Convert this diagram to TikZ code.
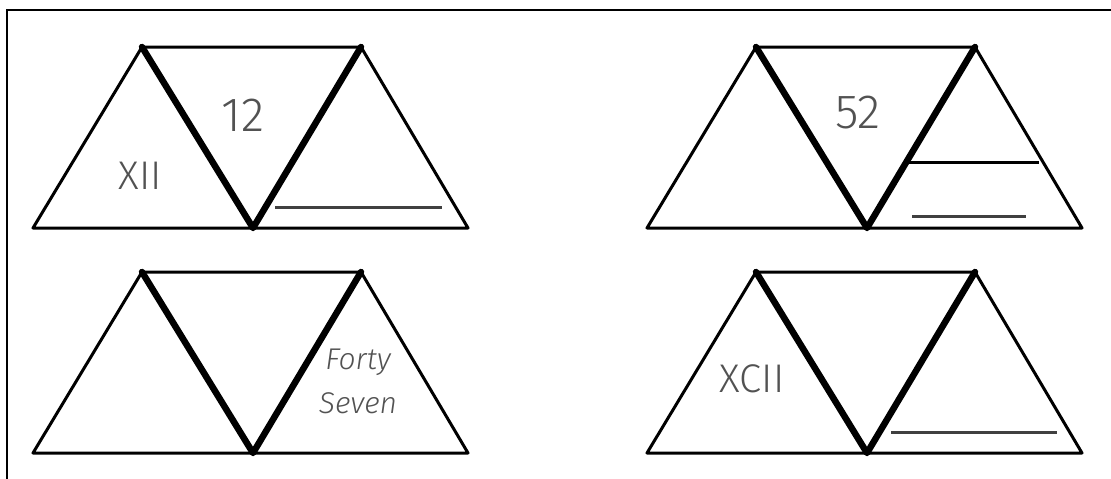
\documentclass[tikz,border=0pt]{standalone}
\usepackage{fontspec}
\newfontfamily\lightfont{Fira Sans Light}
\begin{document}
\begin{tikzpicture}[x=1pt,y=-1pt,
  thinedge/.style={line width=3pt, line join=round},
  thickedge/.style={line width=6.5pt, line cap=round, line join=round},
  lbl/.style={text=black!68, inner sep=0pt, anchor=center},
  blank/.style={line width=3pt, draw=black!75},
  strip/.pic={
    \draw[thinedge] (0,0) -- (109,-181) -- (328,-181) -- (435,0) -- cycle;
    \draw[thickedge] (109,-181) -- (220,0) -- (328,-181);
  }]
\useasboundingbox (0,0) rectangle (1111,479);
\fill[white] (0,0) rectangle (1111,479);
\draw[line width=2pt] (7,485) -- (7,10) -- (1120,10);
% panels
\pic at (33,228) {strip};
\pic at (647,228) {strip};
\pic at (33,453) {strip};
\pic at (647,453) {strip};
% panel 1
\node[lbl, font=\lightfont\fontsize{40}{40}\selectfont] (t1a) at (140,176) {XII};
\node[lbl, font=\lightfont\fontsize{48}{48}\selectfont] (t1b) at (243,115) {12};
\coordinate (u1a) at (275,207); \coordinate (u1b) at (442,207);
\draw[blank] (u1a) -- (u1b);
% panel 2
\node[lbl, font=\lightfont\fontsize{48}{48}\selectfont] (t2) at (858,113) {52};
\coordinate (h2a) at (908,162); \coordinate (h2b) at (1039,162);
\draw[line width=3pt] (h2a) -- (h2b);
\coordinate (u2a) at (912,216); \coordinate (u2b) at (1026,216);
\draw[blank] (u2a) -- (u2b);
% panel 3
\node[lbl, font=\lightfont\itshape\fontsize{30}{30}\selectfont] (t3a) at (358,362) {Forty};
\node[lbl, font=\lightfont\itshape\fontsize{30}{30}\selectfont] (t3b) at (358,403) {Seven};
% panel 4
\node[lbl, font=\lightfont\fontsize{40}{40}\selectfont] (t4) at (752,379) {XCII};
\coordinate (u4a) at (891,432); \coordinate (u4b) at (1057,432);
\draw[blank] (u4a) -- (u4b);
\end{tikzpicture}
\end{document}
